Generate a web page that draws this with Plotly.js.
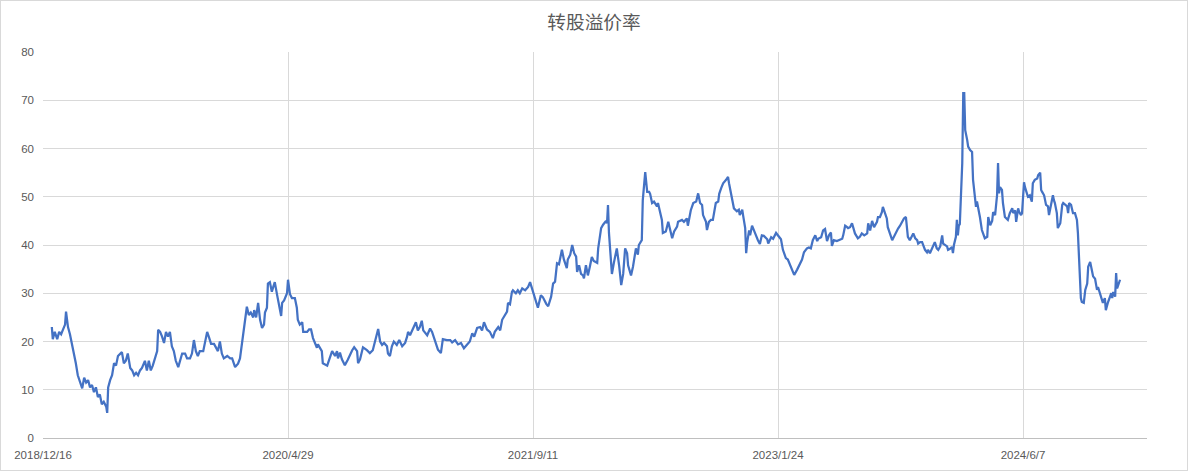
<!DOCTYPE html>
<html>
<head>
<meta charset="utf-8">
<script src="https://cdn.plot.ly/plotly-3.0.1.min.js"></script>
<style>
html,body{margin:0;padding:0;background:#fff;}
#chart{width:1188px;height:471px;box-sizing:border-box;border:1px solid #d9d9d9;}
</style>
</head>
<body>
<div id="chart"></div>
<script>
const chartTitle = "转股溢价率";
const dates = [
"2019-01-03","2019-01-05","2019-01-09","2019-01-14","2019-01-18","2019-01-22","2019-01-26","2019-01-30","2019-02-01","2019-02-05",
"2019-02-09","2019-02-13","2019-02-17","2019-02-21","2019-02-25","2019-03-02","2019-03-06","2019-03-10","2019-03-14","2019-03-18",
"2019-03-22","2019-03-26","2019-03-30","2019-04-03","2019-04-07","2019-04-11","2019-04-15","2019-04-19","2019-04-24","2019-04-26",
"2019-04-28","2019-05-02","2019-05-06","2019-05-10","2019-05-14","2019-05-18","2019-05-22","2019-05-26","2019-05-30","2019-06-03",
"2019-06-07","2019-06-12","2019-06-16","2019-06-20","2019-06-24","2019-06-28","2019-07-02","2019-07-06","2019-07-12","2019-07-16",
"2019-07-20","2019-07-24","2019-07-28","2019-08-02","2019-08-06","2019-08-08","2019-08-12","2019-08-16","2019-08-20","2019-08-24",
"2019-08-28","2019-09-01","2019-09-05","2019-09-09","2019-09-13","2019-09-18","2019-09-22","2019-09-26","2019-10-02","2019-10-06",
"2019-10-12","2019-10-16","2019-10-20","2019-10-24","2019-10-28","2019-11-01","2019-11-08","2019-11-12","2019-11-16","2019-11-20",
"2019-11-24","2019-11-30","2019-12-04","2019-12-08","2019-12-12","2019-12-16","2019-12-20","2019-12-27","2020-01-02","2020-01-06",
"2020-01-12","2020-01-18","2020-01-22","2020-01-26","2020-02-01","2020-02-05","2020-02-09","2020-02-13","2020-02-18","2020-02-20",
"2020-02-24","2020-02-28","2020-03-03","2020-03-07","2020-03-11","2020-03-13","2020-03-17","2020-03-19","2020-03-23","2020-03-27",
"2020-03-29","2020-04-02","2020-04-07","2020-04-09","2020-04-13","2020-04-15","2020-04-17","2020-04-21","2020-04-27","2020-04-29",
"2020-05-03","2020-05-07","2020-05-13","2020-05-17","2020-05-19","2020-05-23","2020-05-28","2020-05-30","2020-06-03","2020-06-07",
"2020-06-11","2020-06-15","2020-06-19","2020-06-23","2020-06-27","2020-06-29","2020-07-03","2020-07-07","2020-07-09","2020-07-14",
"2020-07-18","2020-07-20","2020-07-24","2020-07-28","2020-07-30","2020-08-03","2020-08-07","2020-08-09","2020-08-13","2020-08-17",
"2020-08-23","2020-08-29","2020-09-07","2020-09-11","2020-09-17","2020-09-19","2020-09-23","2020-09-29","2020-10-07","2020-10-13",
"2020-10-19","2020-10-24","2020-10-30","2020-11-03","2020-11-07","2020-11-11","2020-11-17","2020-11-19","2020-11-23","2020-11-27",
"2020-12-01","2020-12-07","2020-12-12","2020-12-18","2020-12-24","2020-12-28","2020-12-30","2021-01-03","2021-01-07","2021-01-11",
"2021-01-15","2021-01-19","2021-01-23","2021-01-27","2021-01-30","2021-02-07","2021-02-13","2021-02-17","2021-02-23","2021-02-27",
"2021-03-01","2021-03-07","2021-03-11","2021-03-19","2021-03-26","2021-03-30","2021-04-05","2021-04-11","2021-04-17","2021-04-23",
"2021-04-29","2021-05-05","2021-05-10","2021-05-14","2021-05-20","2021-05-26","2021-05-30","2021-06-03","2021-06-09","2021-06-15",
"2021-06-21","2021-06-25","2021-07-02","2021-07-06","2021-07-10","2021-07-16","2021-07-20","2021-07-22","2021-07-26","2021-07-30",
"2021-08-01","2021-08-07","2021-08-11","2021-08-15","2021-08-20","2021-08-26","2021-09-01","2021-09-05","2021-09-09","2021-09-13",
"2021-09-19","2021-09-21","2021-09-27","2021-10-01","2021-10-08","2021-10-12","2021-10-18","2021-10-22","2021-10-26","2021-10-30",
"2021-11-03","2021-11-07","2021-11-09","2021-11-13","2021-11-19","2021-11-21","2021-11-26","2021-11-30","2021-12-04","2021-12-08",
"2021-12-10","2021-12-14","2021-12-18","2021-12-22","2021-12-24","2021-12-28","2022-01-01","2022-01-05","2022-01-09","2022-01-13",
"2022-01-20","2022-01-22","2022-01-28","2022-02-01","2022-02-07","2022-02-09","2022-02-11","2022-02-13","2022-02-17","2022-02-19",
"2022-02-23","2022-03-01","2022-03-06","2022-03-10","2022-03-14","2022-03-18","2022-03-22","2022-03-24","2022-03-30","2022-04-03",
"2022-04-09","2022-04-13","2022-04-15","2022-04-21","2022-04-23","2022-04-28","2022-05-02","2022-05-06","2022-05-08","2022-05-12",
"2022-05-16","2022-05-22","2022-05-24","2022-05-28","2022-06-01","2022-06-03","2022-06-09","2022-06-14","2022-06-18","2022-06-22",
"2022-06-26","2022-07-02","2022-07-04","2022-07-12","2022-07-16","2022-07-22","2022-07-24","2022-07-30","2022-08-04","2022-08-10",
"2022-08-14","2022-08-18","2022-08-22","2022-08-24","2022-08-30","2022-09-01","2022-09-05","2022-09-09","2022-09-13","2022-09-19",
"2022-09-24","2022-09-26","2022-09-30","2022-10-04","2022-10-10","2022-10-14","2022-10-16","2022-10-20","2022-10-22","2022-10-26",
"2022-11-01","2022-11-05","2022-11-07","2022-11-12","2022-11-14","2022-11-18","2022-11-20","2022-11-22","2022-11-26","2022-11-28",
"2022-12-02","2022-12-06","2022-12-10","2022-12-14","2022-12-18","2022-12-22","2022-12-26","2023-01-02","2023-01-04","2023-01-10",
"2023-01-14","2023-01-20","2023-01-24","2023-01-30","2023-02-03","2023-02-09","2023-02-13","2023-02-17","2023-02-22","2023-02-26",
"2023-03-04","2023-03-08","2023-03-14","2023-03-18","2023-03-24","2023-03-28","2023-04-01","2023-04-05","2023-04-10","2023-04-14",
"2023-04-16","2023-04-22","2023-04-26","2023-04-30","2023-05-04","2023-05-08","2023-05-12","2023-05-14","2023-05-18","2023-05-24",
"2023-05-28","2023-06-04","2023-06-06","2023-06-10","2023-06-14","2023-06-16","2023-06-20","2023-06-24","2023-06-30","2023-07-06",
"2023-07-10","2023-07-14","2023-07-19","2023-07-25","2023-07-27","2023-07-31","2023-08-04","2023-08-08","2023-08-14","2023-08-16",
"2023-08-20","2023-08-24","2023-08-26","2023-08-30","2023-09-03","2023-09-05","2023-09-10","2023-09-14","2023-09-16","2023-09-22",
"2023-09-26","2023-09-30","2023-10-04","2023-10-08","2023-10-12","2023-10-14","2023-10-16","2023-10-20","2023-10-24","2023-10-27",
"2023-10-31","2023-11-04","2023-11-06","2023-11-10","2023-11-14","2023-11-16","2023-11-20","2023-11-24","2023-11-26","2023-11-30",
"2023-12-04","2023-12-06","2023-12-10","2023-12-14","2023-12-17","2023-12-21","2023-12-25","2023-12-27","2023-12-31","2024-01-04",
"2024-01-06","2024-01-10","2024-01-14","2024-01-16","2024-01-18","2024-01-22","2024-01-24","2024-01-26","2024-01-28","2024-01-30",
"2024-02-04","2024-02-06","2024-02-08","2024-02-10","2024-02-14","2024-02-16","2024-02-20","2024-02-24","2024-02-26","2024-02-28",
"2024-03-03","2024-03-05","2024-03-07","2024-03-09","2024-03-11","2024-03-15","2024-03-17","2024-03-21","2024-03-26","2024-03-28",
"2024-04-01","2024-04-05","2024-04-07","2024-04-11","2024-04-15","2024-04-17","2024-04-19","2024-04-21","2024-04-25","2024-04-27",
"2024-05-01","2024-05-05","2024-05-07","2024-05-11","2024-05-16","2024-05-18","2024-05-22","2024-05-24","2024-05-28","2024-05-30",
"2024-06-03","2024-06-05","2024-06-09","2024-06-11","2024-06-15","2024-06-17","2024-06-21","2024-06-25","2024-06-27","2024-07-01",
"2024-07-06","2024-07-08","2024-07-12","2024-07-14","2024-07-16","2024-07-20","2024-07-24","2024-07-28","2024-07-30","2024-08-03",
"2024-08-07","2024-08-09","2024-08-11","2024-08-15","2024-08-17","2024-08-22","2024-08-26","2024-08-28","2024-09-01","2024-09-05",
"2024-09-07","2024-09-09","2024-09-13","2024-09-15","2024-09-17","2024-09-21","2024-09-25","2024-09-27","2024-09-29","2024-10-01",
"2024-10-03","2024-10-05","2024-10-09","2024-10-12","2024-10-16","2024-10-18","2024-10-22","2024-10-26","2024-10-28","2024-11-01",
"2024-11-05","2024-11-07","2024-11-11","2024-11-15","2024-11-17","2024-11-21","2024-11-23","2024-11-27","2024-11-30","2024-12-04",
"2024-12-06","2024-12-08","2024-12-12","2024-12-14","2024-12-16","2024-12-20","2024-12-22"
];
const premium = [
23,20.5,22,20.5,22,21.5,22.5,23.5,26.2,23,
21.5,19.5,18,15.5,13,11.5,10.3,12.5,11.5,12,
10.5,11,9.5,10.5,8.5,9,7,7.5,6.5,5.2,
10.5,12,13,15.5,15,17,17.5,17.8,15.5,16,
17.5,14.5,14,13,13.5,13,14,14.5,16,14,
16,14,15,17,18,22.4,22,21,19.7,22,
21,22,19,18,16,14.7,16,17.5,17.5,16.5,
16.5,17.5,20.3,18,17,18,18,19.7,22,20.8,
19.5,19.5,18.7,18,20,17.5,16.5,17,16.5,16.5,
14.7,15.4,16.5,19.7,23.8,27.2,25.5,26,25,26.5,
25,28,24.5,22.8,23.5,26,27,32,32.3,30.3,
31,32.3,29.5,28.5,27,25.3,28,28.5,30,32.8,
29.8,29,29,27,24.5,23.5,24,22,22,22,
22.5,22.5,20.7,19.7,18.7,19.4,18.7,18,15.5,15.3,
15,15.6,16.8,18,17.7,17,18,16.5,17.7,16.3,
15.1,16.2,18.2,18.8,18,15.5,16.3,18.8,18.2,17.6,
18.2,20.3,22.6,20,19.3,19.7,19,17.5,17,19,
20,19.3,20.3,19,19.7,21,22,21.3,22.3,23,
24,22.3,23,24.3,22.3,21.3,22.7,22,20.3,19,
18.3,17.6,20.5,20.3,20.3,19.8,20.3,19.4,19.7,18.6,
19.4,20,21.7,21,22.8,23,22.3,24,22.5,22,
20.7,22,23,22.3,24.5,25.5,26.2,28,27.7,30.3,
30.6,30,30.6,30,31,30.6,31.3,32.3,31,30,
28,27,29.6,29.2,27.8,27.3,29.3,32,32.4,36.2,
36,38.5,39,37,35.2,37,38,40,38.3,37.6,
34.4,35.8,34,33.7,33.1,35.8,33.7,35.5,37.5,36.7,
36.3,39.3,43.5,44.2,45,44.5,48.3,42.5,35.5,34,
36.3,39.3,35.5,31.7,34,39.3,38.3,35.8,33.7,35.5,
39.3,38,40,41,49.3,55.1,51,51,50.6,48.7,
49,48,48.7,46.6,45.2,42.5,42.8,44.8,43.2,41.4,
42.8,43.8,44.8,45.2,44.8,45.5,44,47.2,48.7,49,
50.7,48.7,48.3,46.2,44.8,43.1,44.8,45.2,45.2,48.7,
49,50.6,51.8,52.8,53.5,54.1,52.8,51,50,47.6,
47,47.3,46.2,47.3,46,43.5,38.3,40.5,43,42,
44,42.8,42,41,40.2,42,41.9,41.2,40.3,41.6,
41.3,42.5,42,41.2,39,37.3,37,35.9,34.9,33.8,
34.9,35.9,37,38.5,39.3,39.5,39.3,41,42,40.8,
41.3,41.6,43,43.3,40.8,42,42.6,39.8,41,40.8,
41,41.3,42,44,43.7,43.5,43.7,44.5,42.4,41.4,
41.7,42.4,42,42.4,44.5,43,45,43.7,44.8,45.8,
45.8,46.8,47.9,46.8,45.5,43.7,42,41,41.4,42.8,
43.4,44,44.8,45.5,45.8,43.7,41.7,41,42,42.4,
41.4,41,40.3,40.6,40.6,40,39,38.5,39,38.3,
39.3,39.7,40.6,39.3,39,39.7,42,40.3,40,39.7,
39,39.2,39.6,38.3,40,41.7,45.2,42,44,44.3,
57,71.5,71.5,63.8,61.8,60.4,59.7,59.3,53.5,52,
47.9,49,47.9,47.3,45.8,43.1,42.5,41.4,41.7,45.8,
44.1,45,46.8,46.2,50.3,57,50.7,52,51.4,48.7,
45.8,45.5,45.2,46.6,47.6,46.6,47.2,44.8,47.6,46.9,
46.2,46.6,53,52,50.3,50,50.3,49,52.8,53.5,
53.8,54.5,55,51.4,51,50.3,48.3,48,46.2,48,
50.3,49.3,48.7,46.6,43.5,44.5,48.3,48.7,48.3,48,
46.6,48.7,48.3,47,46.6,46.6,45.2,42.5,36.9,31.3,
29,28.2,28,30.7,32,35.5,36.5,34.5,33.5,33,
30.7,31.3,30,29,28,29,26.5,28,29,30,
29,30.3,29.3,34.2,31,32.5,32.8
];
const axisStart = "2018-12-16";
const axisEnd = "2025-02-15";
const yMin = 0, yMax = 80, yStep = 10;
const tickStepDays = 500;

const fontFamily = '"Liberation Sans", Arial, sans-serif';
const trace = {
  type: 'scatter', mode: 'lines',
  x: dates, y: premium,
  line: {color: '#4472C4', width: 2.25},
  hoverinfo: 'x+y'
};
const layout = {
  width: 1186, height: 469,
  margin: {l: 42, r: 40, t: 51, b: 32},
  paper_bgcolor: '#ffffff', plot_bgcolor: '#ffffff',
  showlegend: false,
  title: {
    text: chartTitle,
    x: 0.5, xanchor: 'center', xref: 'container',
    y: 0.955, yanchor: 'middle', yref: 'container',
    font: {family: '"Noto Sans CJK SC", sans-serif', size: 18.7, color: '#595959'}
  },
  xaxis: {
    type: 'date',
    range: [axisStart, axisEnd],
    tick0: axisStart,
    dtick: tickStepDays * 86400000,
    tickformat: '%Y/%-m/%-d',
    showgrid: true, gridcolor: '#D9D9D9', gridwidth: 1,
    showline: true, linecolor: '#BFBFBF', linewidth: 1,
    ticks: '', ticklabelstandoff: 6,
    zeroline: false,
    tickfont: {family: fontFamily, size: 11.5, color: '#595959'}
  },
  yaxis: {
    range: [yMin, yMax],
    dtick: yStep, tick0: 0,
    showgrid: true, gridcolor: '#D9D9D9', gridwidth: 1,
    showline: false, zeroline: false,
    ticks: '', ticklabelstandoff: 8,
    tickfont: {family: fontFamily, size: 11.5, color: '#595959'}
  }
};
Plotly.newPlot('chart', [trace], layout, {displayModeBar: false, staticPlot: true});
</script>
</body>
</html>
